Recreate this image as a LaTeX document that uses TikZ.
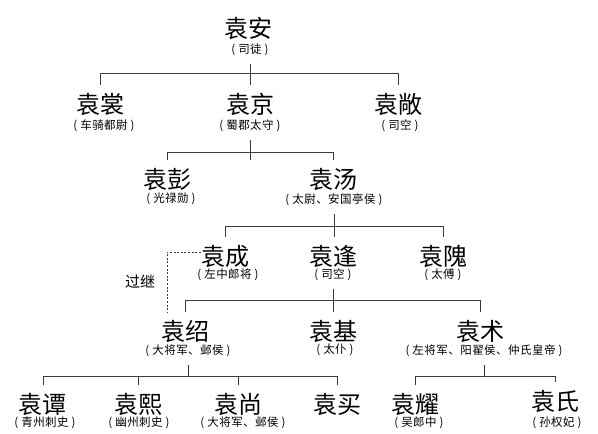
\documentclass[tikz,border=0pt]{standalone}
\usepackage{fontspec}
\newfontfamily\cjk{Noto Sans CJK SC}
\newfontfamily\cjksub[LetterSpace=4]{Noto Sans CJK SC}
\newcommand{\offtxt}[1]{(\hspace{3pt}#1\hspace{3pt})}
\definecolor{linegray}{HTML}{3A3A3A}
\begin{document}
\begin{tikzpicture}[x=1pt,y=-1pt,
  pname/.style={font=\cjk\fontsize{24}{24}\selectfont, inner sep=0pt, text height=20pt, text depth=4pt},
  ptitle/.style={font=\cjksub\fontsize{11.5}{12}\selectfont, inner sep=0pt, text height=9pt, text depth=2.5pt},
  link/.style={draw=linegray, line width=0.9pt},
  adopt/.style={draw=linegray, line width=0.7pt, dash pattern=on 2pt off 1.6pt}]
\fill[white] (0,0) rectangle (598,434);
\useasboundingbox (0,0) rectangle (598,434);

% level 1
\node[pname]  (nAn)    at (248,29)  {袁安};
\node[ptitle] (sAn)    at (250,50)  {\offtxt{司徒}};
% level 2
\node[pname]  (nChang) at (100,105) {袁裳};
\node[ptitle] (sChang) at (104,126) {\offtxt{车骑都尉}};
\node[pname]  (nJing)  at (250,105) {袁京};
\node[ptitle] (sJing)  at (250,126) {\offtxt{蜀郡太守}};
\node[pname]  (nCh2)   at (398,105) {袁敞};
\node[ptitle] (sCh2)   at (400,126) {\offtxt{司空}};
% level 3
\node[pname]  (nPeng)  at (167,180) {袁彭};
\node[ptitle] (sPeng)  at (171,199) {\offtxt{光禄勋}};
\node[pname]  (nTang)  at (333,180) {袁汤};
\node[ptitle] (sTang)  at (334,200) {\offtxt{太尉、安国亭侯}};
% level 4
\node[pname]  (nCheng) at (225,257) {袁成};
\node[ptitle] (sCheng) at (228,275) {\offtxt{左中郎将}};
\node[pname]  (nFeng)  at (333,257) {袁逢};
\node[ptitle] (sFeng)  at (333,275) {\offtxt{司空}};
\node[pname]  (nWei)   at (443,257) {袁隗};
\node[ptitle] (sWei)   at (443,275) {\offtxt{太傅}};
% level 5
\node[pname]  (nShao)  at (185,332) {袁绍};
\node[ptitle] (sShao)  at (188,351) {\offtxt{大将军、邺侯}};
\node[pname]  (nJi)    at (333,332) {袁基};
\node[ptitle] (sJi)    at (335,350) {\offtxt{太仆}};
\node[pname]  (nShu)   at (480,332) {袁术};
\node[ptitle] (sShu)   at (484,351) {\offtxt{左将军、阳翟侯、仲氏皇帝}};
% level 6
\node[pname]  (nTan)   at (43,405)  {袁谭};
\node[ptitle] (sTan)   at (45,423)  {\offtxt{青州刺史}};
\node[pname]  (nXi)    at (138,405) {袁熙};
\node[ptitle] (sXi)    at (139,423) {\offtxt{幽州刺史}};
\node[pname]  (nShang) at (238,405) {袁尚};
\node[ptitle] (sShang) at (243,423) {\offtxt{大将军、邺侯}};
\node[pname]  (nMai)   at (337,405) {袁买};
\node[pname]  (nYao)   at (415,405) {袁耀};
\node[ptitle] (sYao)   at (419,423) {\offtxt{吴郎中}};
\node[pname]  (nShi)   at (555,402) {袁氏};
\node[ptitle] (sShi)   at (557,423) {\offtxt{孙权妃}};

% adoption label
\node[font=\cjk\fontsize{15}{15}\selectfont, inner sep=0pt] (lAdopt) at (140,282) {过继};

% parent start points
\foreach \p in {An,Jing,Tang,Feng,Shao,Shu}{
  \coordinate (p\p) at ([yshift=-8pt]s\p.south);
}
% child drop ends
\foreach \c in {Chang,Jing,Ch2,Peng,Tang,Cheng,Feng,Wei,Shao,Ji,Shu,Tan,Xi,Shang,Mai,Yao,Shi}{
  \coordinate (d\c) at ([yshift=8pt]n\c.north);
}
% bus levels
\coordinate (b1) at (0,73);
\coordinate (b2) at (0,152);
\coordinate (b3) at (0,226);
\coordinate (b4) at (0,300);
\coordinate (b5) at (0,376);
\coordinate (b6) at (0,376);

% family of Yuan An
\draw[link] (pAn) -- (pAn |- dJing);
\draw[link] (dChang) -- (dChang |- b1) -- (dCh2 |- b1) -- (dCh2);
% family of Yuan Jing
\draw[link] (pJing) -- (pJing |- dPeng);
\draw[link] (dPeng) -- (dPeng |- b2) -- (dTang |- b2) -- (dTang);
% family of Yuan Tang
\draw[link] (pTang) -- (pTang |- dFeng);
\draw[link] (dCheng) -- (dCheng |- b3) -- (dWei |- b3) -- (dWei);
% family of Yuan Feng
\draw[link] (pFeng) -- (pFeng |- dJi);
\draw[link] (dShao) -- (dShao |- b4) -- (dShu |- b4) -- (dShu);
% family of Yuan Shao
\draw[link] (pShao) -- (pShao |- b5);
\draw[link] (dTan) -- (dTan |- b5) -- (dMai |- b5) -- (dMai);
\draw[link] (dXi) -- (dXi |- b5);
\draw[link] (dShang) -- (dShang |- b5);
% family of Yuan Shu
\draw[link] (pShu) -- (pShu |- b6);
\draw[link] (dYao) -- (dYao |- b6) -- (dShi |- b6) -- (dShi);

% adoption (dashed)
\coordinate (adoptEnd) at (167,312);
\draw[adopt] ([yshift=5pt]nCheng.west) -| (adoptEnd);

\end{tikzpicture}
\end{document}
